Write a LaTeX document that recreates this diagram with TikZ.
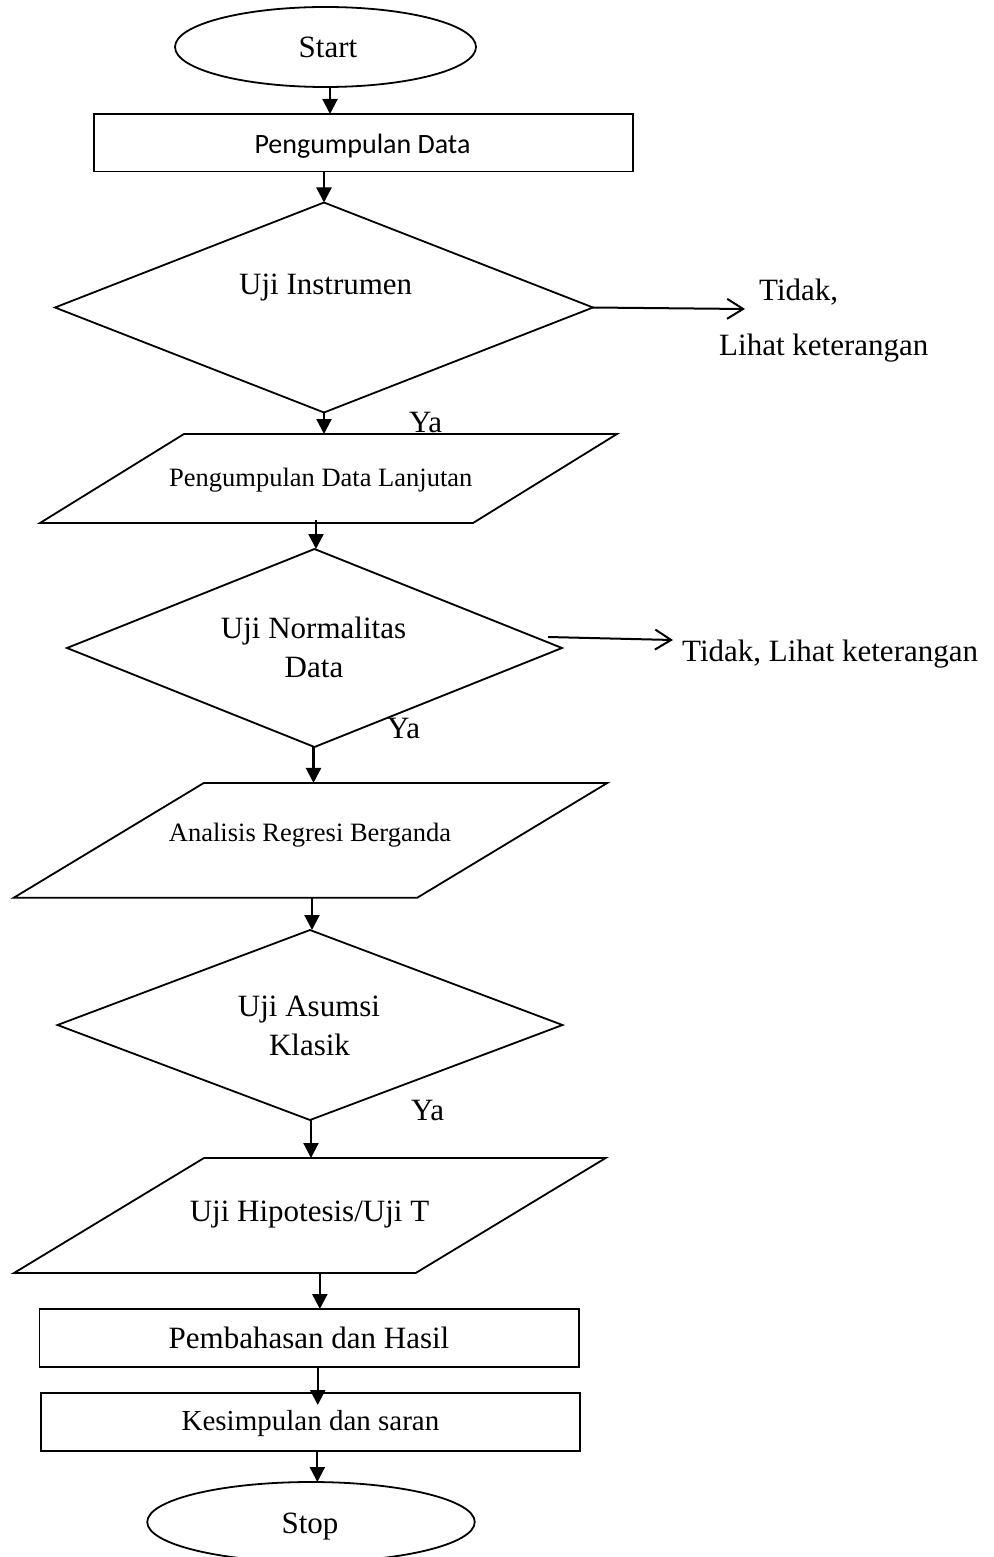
\documentclass[tikz,border=0pt]{standalone}
\usepackage{fontspec}
\setmainfont{Liberation Serif}
\newfontfamily\calibrifont{Carlito}
\usetikzlibrary{shapes.geometric,arrows.meta,calc}
\tikzset{
  shp/.style={draw=black, line width=1.8pt, inner sep=0pt, outer sep=0pt},
  term/.style={shp, ellipse},
  procbox/.style={shp, rectangle},
  decide/.style={shp, diamond},
  holder/.style={rectangle, inner sep=0pt, outer sep=0pt},
  para/.style={draw=black, line width=1.8pt, line join=miter},
  arr/.style={line width=2.2pt, -{Triangle[length=15pt,width=15pt]}},
  openarr/.style={line width=2pt, -{Straight Barb[length=16pt,width=20pt,line width=2pt]}},
  big/.style={font=\fontsize{31}{37}\selectfont, inner sep=0pt, anchor=base},
  mid/.style={font=\fontsize{26.5}{32}\selectfont, inner sep=0pt, anchor=base},
  kes/.style={font=\fontsize{29}{35}\selectfont, inner sep=0pt, anchor=base},
  sans/.style={font=\calibrifont\fontsize{28}{34}\selectfont, inner sep=0pt, anchor=base},
}
\begin{document}
\begin{tikzpicture}[x=1pt,y=-1pt]
\clip (0,0) rectangle (993,1557);
\fill[white] (0,0) rectangle (993,1557);

% shapes
\node[term, minimum width=301pt, minimum height=80pt] (start) at (325.5,47) {};
\node[procbox, minimum width=539pt, minimum height=57.5pt] (box1) at (363.5,142.75) {};
\node[decide, minimum width=538pt, minimum height=210pt] (d1) at (324,307.5) {};
\node[holder, minimum width=433pt, minimum height=89pt] (p1) at (328.5,478.5) {};
\draw[para] ([xshift=72pt]p1.north west) -- ([xshift=72pt]p1.north east) -- ([xshift=-72pt]p1.south east) -- ([xshift=-72pt]p1.south west) -- cycle;
\node[decide, minimum width=495pt, minimum height=198pt] (d2) at (314.5,648) {};
\node[holder, minimum width=403.5pt, minimum height=114.7pt] (p2) at (310.6,840.3) {};
\draw[para] ([xshift=95pt]p2.north west) -- ([xshift=95pt]p2.north east) -- ([xshift=-95pt]p2.south east) -- ([xshift=-95pt]p2.south west) -- cycle;
\node[decide, minimum width=505pt, minimum height=190pt] (d3) at (310,1025) {};
\node[holder, minimum width=401.7pt, minimum height=115pt] (p3) at (309.85,1215.5) {};
\draw[para] ([xshift=95pt]p3.north west) -- ([xshift=95pt]p3.north east) -- ([xshift=-95pt]p3.south east) -- ([xshift=-95pt]p3.south west) -- cycle;
\node[procbox, minimum width=539.5pt, minimum height=58pt] (box2) at (309.25,1338) {};
\node[procbox, minimum width=539.3pt, minimum height=57.7pt] (box3) at (310.35,1421.85) {};
\node[term, minimum width=327.5pt, minimum height=80pt] (stop) at (311,1522) {};

% texts
\node[big] (tstart) at (328,58) {Start};
\node[sans] (tbox1) at (362.5,154) {Pengumpulan Data};
\node[big] (td1) at (325.7,294) {Uji Instrumen};
\node[big, anchor=base west] (ttidak1) at (759,300) {Tidak,};
\node[big, anchor=base west] (tlihat1) at (719,355) {Lihat keterangan};
\node[big, anchor=base west] (tya1) at (409,432) {Ya};
\node[mid] (tp1) at (320.8,486) {Pengumpulan Data Lanjutan};
\node[big] (td2a) at (313.5,638) {Uji Normalitas};
\node[big] (td2b) at (314,677) {Data};
\node[big, anchor=base west] (ttidak2) at (682,661) {Tidak, Lihat keterangan};
\node[big, anchor=base west] (tya2) at (387,738) {Ya};
\node[mid] (tp2) at (310,841.7) {Analisis Regresi Berganda};
\node[big] (td3a) at (309,1016.7) {Uji Asumsi};
\node[big] (td3b) at (309.5,1055) {Klasik};
\node[big, anchor=base west] (tya3) at (411,1120) {Ya};
\node[big] (tp3) at (309.5,1221.7) {Uji Hipotesis/Uji T};
\node[big] (tbox2) at (309,1348) {Pembahasan dan Hasil};
\node[kes] (tbox3) at (310.5,1430) {Kesimpulan dan saran};
\node[big] (tstop) at (310,1533) {Stop};

% free ends of the side arrows
\coordinate (t1) at (745,309);
\coordinate (t2) at (673,640);

% connectors
\draw[arr] ([xshift=4.5pt]start.south) -- ([xshift=4.5pt]start.south |- box1.north);
\draw[arr] (d1.north |- box1.south) -- (d1.north);
\draw[openarr] (d1.east) -- (t1);
\draw[arr] (d1.south) -- (d1.south |- p1.north);
\draw[arr] ($(p1.south -| d2.north)+(1.5,-3)$) -- ($(d2.north)+(1.5,0)$);
\draw[openarr] ($(d2.east)+(-14,-11)$) -- (t2);
\draw[arr] ($(d2.south)+(-1,0)$) -- ($(d2.south |- p2.north)+(-1,0)$);
\draw[arr] ($(p2.south -| d3.north)+(2,0)$) -- ($(d3.north)+(2,0)$);
\draw[arr] ($(d3.south)+(1,0)$) -- ($(d3.south |- p3.north)+(1,0)$);
\draw[arr] ([xshift=10pt]p3.south) -- ([xshift=10pt]p3.south |- box2.north);
\draw[arr] ($(box2.south)+(8.5,0)$) -- ($(box2.south |- box3.north)+(8.5,12)$);
\draw[arr] ([xshift=7pt]box3.south) -- ([xshift=7pt]box3.south |- stop.north);
\end{tikzpicture}
\end{document}
